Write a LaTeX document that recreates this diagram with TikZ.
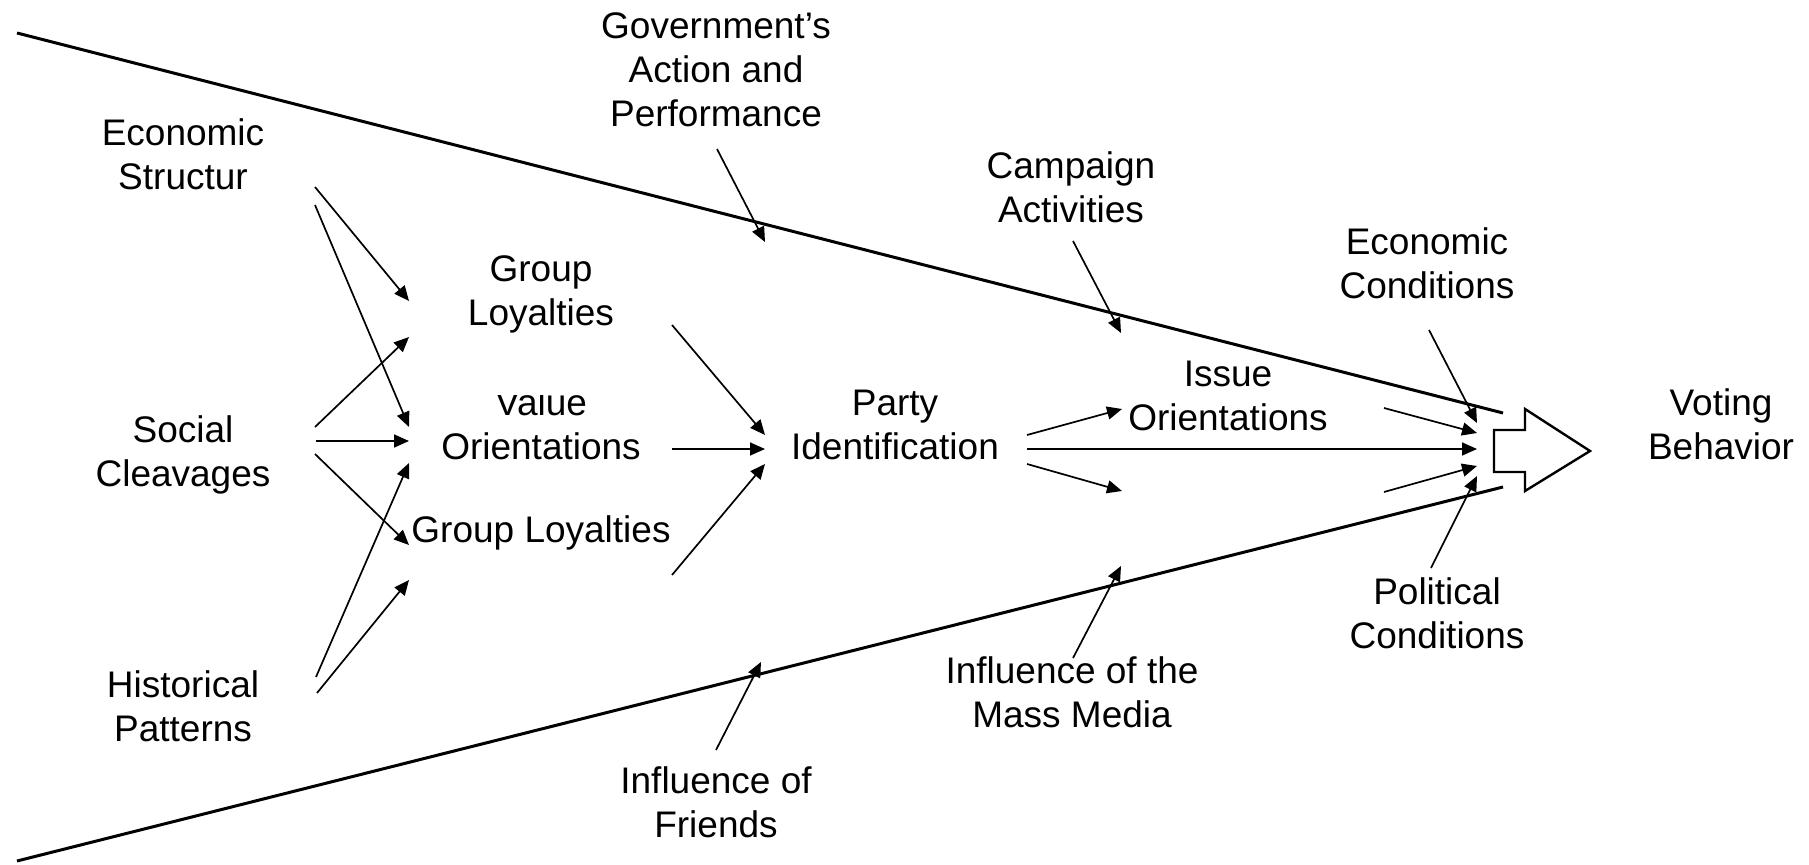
\documentclass[tikz,border=0pt]{standalone}
\usepackage{fontspec}
\setmainfont{Liberation Sans}
\usetikzlibrary{arrows.meta}
\begin{document}
\begin{tikzpicture}[x=0.5pt,y=-0.5pt,
  lbl/.style={align=center, inner sep=0pt, font=\fontsize{18.5}{22}\selectfont},
  arr/.style={-{Triangle[length=7.5pt,width=6.5pt]}, line width=0.85pt},
  edge/.style={line width=1.5pt},
  block/.style={line width=1.2pt, line join=miter}]
\useasboundingbox (0,0) rectangle (1809,865);

% labels
\node[lbl] (gov) at (716,74) {Government's\strut\\Action and\strut\\Performance\strut};
\node[lbl] (econ) at (183,159) {Economic\strut\\Structur\strut};
\node[lbl] (camp) at (1071,192) {Campaign\strut\\Activities\strut};
\node[lbl] (econc) at (1427,268) {Economic\strut\\Conditions\strut};
\node[lbl] (val) at (541,429) {Value\strut\\Orientations\strut};
\fill[white] (490,338) rectangle (595,395);
\node[lbl] (grp1) at (541,295) {Group\strut\\Loyalties\strut};
\node[lbl] (party) at (895,429) {Party\strut\\Identification\strut};
\node[lbl] (issue) at (1228,400) {Issue\strut\\Orientations\strut};
\node[lbl] (vote) at (1721,429) {Voting\strut\\Behavior\strut};
\node[lbl] (soc) at (183,456) {Social\strut\\Cleavages\strut};
\node[lbl] (grp2) at (541,534) {Group Loyalties\strut};
\node[lbl] (pol) at (1437,618) {Political\strut\\Conditions\strut};
\node[lbl] (hist) at (183,711) {Historical\strut\\Patterns\strut};
\node[lbl] (media) at (1072,697) {Influence of the\strut\\Mass Media\strut};
\node[lbl] (friends) at (716,807) {Influence of\strut\\Friends\strut};

% funnel edges
\coordinate (tl0) at (17,33);
\coordinate (tl1) at (1503,413);
\coordinate (bl0) at (17,861);
\coordinate (bl1) at (1503,487);
\draw[edge] (tl0) -- (tl1);
\draw[edge] (bl0) -- (bl1);

% block arrow
\draw[block] (1494,430) -- (1525,430) -- (1525,409) -- (1590,451) -- (1525,491) -- (1525,472) -- (1494,472) -- cycle;

% connector end points
\coordinate (e1s) at (315,187); \coordinate (e1e) at (409,301);
\coordinate (e2s) at (315,205); \coordinate (e2e) at (409,427);
\coordinate (s1s) at (315,427); \coordinate (s1e) at (409,337);
\coordinate (s2s) at (316,441); \coordinate (s2e) at (409,441);
\coordinate (s3s) at (315,454); \coordinate (s3e) at (409,545);
\coordinate (h1s) at (316,677); \coordinate (h1e) at (409,463);
\coordinate (h2s) at (317,693); \coordinate (h2e) at (409,580);
\coordinate (g1s) at (672,325); \coordinate (g1e) at (765,435);
\coordinate (v1s) at (672,449); \coordinate (v1e) at (765,449);
\coordinate (g2s) at (672,575); \coordinate (g2e) at (765,464);
\coordinate (p1s) at (1027,435); \coordinate (p1e) at (1122,409);
\coordinate (p2s) at (1027,449); \coordinate (p2e) at (1477,449);
\coordinate (p3s) at (1027,464); \coordinate (p3e) at (1122,491);
\coordinate (c1s) at (1429,330); \coordinate (c1e) at (1477,423);
\coordinate (i1s) at (1384,408); \coordinate (i1e) at (1477,433);
\coordinate (i2s) at (1384,492); \coordinate (i2e) at (1477,466);
\coordinate (c2s) at (1431,568); \coordinate (c2e) at (1477,476);
\coordinate (gvs) at (717,149); \coordinate (gve) at (765,242);
\coordinate (cas) at (1073,241); \coordinate (cae) at (1121,333);
\coordinate (mms) at (1073,658); \coordinate (mme) at (1121,566);
\coordinate (frs) at (716,750); \coordinate (fre) at (761,662);

\foreach \a in {e1,e2,s1,s2,s3,h1,h2,g1,v1,g2,p1,p2,p3,c1,i1,i2,c2,gv,ca,mm,fr}
  \draw[arr] (\a s) -- (\a e);
\end{tikzpicture}
\end{document}
